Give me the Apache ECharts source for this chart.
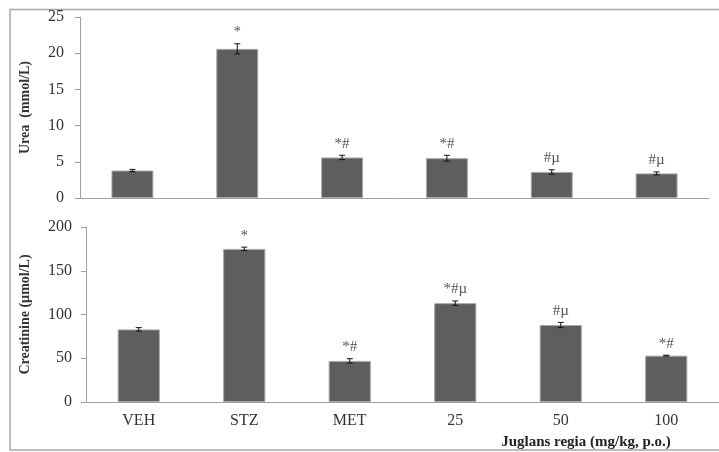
<!DOCTYPE html>
<html>
<head>
<meta charset="utf-8">
<script src="https://cdn.jsdelivr.net/npm/echarts@6/dist/echarts.min.js"></script>
<style>html,body{margin:0;padding:0;background:#fff;overflow:hidden;}#c{width:719px;height:452px;}</style>
</head>
<body>
<div id="c"></div>
<script>
var categories = ['VEH', 'STZ', 'MET', '25', '50', '100'];
var ureaValues = [3.8, 20.6, 5.6, 5.5, 3.6, 3.4];
var ureaErrors = [0.15, 0.7, 0.3, 0.4, 0.3, 0.2];
var ureaMarks = ['', '*', '*#', '*#', '#\u00b5', '#\u00b5'];
var creatValues = [83, 175, 47, 113, 88, 53];
var creatErrors = [2, 2, 2.5, 2.5, 3, 0.5];
var creatMarks = ['', '*', '*#', '*#\u00b5', '#\u00b5', '*#'];
var ureaTicks = [0, 5, 10, 15, 20, 25];
var creatTicks = [0, 50, 100, 150, 200];

var FONT = '"Liberation Serif", "Times New Roman", serif';
var AXIS_COLOR = '#a0a0a0';

function errSeries(xi, yi, vals, errs, marks) {
  return {
    type: 'custom',
    xAxisIndex: xi, yAxisIndex: yi,
    z: 5,
    data: vals.map(function (v, i) { return [i, v, errs[i]]; }),
    renderItem: function (params, api) {
      var i = api.value(0), v = api.value(1), e = api.value(2);
      var top = api.coord([i, v + e]);
      var bot = api.coord([i, v - e]);
      var cw = 3;
      var children = [
        { type: 'line', shape: { x1: top[0], y1: top[1], x2: bot[0], y2: bot[1] }, style: { stroke: '#111', lineWidth: 1 } },
        { type: 'line', shape: { x1: top[0] - cw, y1: top[1], x2: top[0] + cw, y2: top[1] }, style: { stroke: '#111', lineWidth: 1 } },
        { type: 'line', shape: { x1: bot[0] - cw, y1: bot[1], x2: bot[0] + cw, y2: bot[1] }, style: { stroke: '#111', lineWidth: 1 } }
      ];
      var m = marks[params.dataIndex];
      if (m) {
        children.push({ type: 'text', style: { text: m, x: top[0], y: top[1] - 4, textAlign: 'center', textVerticalAlign: 'bottom', fill: '#555', font: '15px ' + FONT } });
      }
      return { type: 'group', children: children };
    }
  };
}

var chart = echarts.init(document.getElementById('c'));
chart.setOption({
  animation: false,
  backgroundColor: '#fff',
  grid: [
    { left: 80, top: 17, width: 629, height: 181 },
    { left: 86, top: 227, width: 644, height: 175 }
  ],
  xAxis: [
    { type: 'category', gridIndex: 0, data: categories,
      axisLine: { lineStyle: { color: AXIS_COLOR } },
      axisTick: { length: 5, lineStyle: { color: AXIS_COLOR } },
      axisLabel: { show: false } },
    { type: 'category', gridIndex: 1, data: categories,
      axisLine: { lineStyle: { color: AXIS_COLOR } },
      axisTick: { length: 5, lineStyle: { color: AXIS_COLOR } },
      axisLabel: { color: '#333', fontFamily: FONT, fontSize: 16, margin: 11 } }
  ],
  yAxis: [
    { type: 'value', gridIndex: 0, min: 0, max: 25, interval: 5,
      name: 'Urea  (mmol/L)', nameLocation: 'middle', nameGap: 48,
      nameTextStyle: { fontFamily: FONT, fontSize: 14, fontWeight: 'bold', color: '#333' },
      axisLine: { show: true, lineStyle: { color: AXIS_COLOR } },
      axisTick: { show: true, length: 5, lineStyle: { color: AXIS_COLOR } },
      splitLine: { show: false },
      axisLabel: { color: '#333', fontFamily: FONT, fontSize: 16, margin: 16,
        formatter: function (v) { return ureaTicks.indexOf(v) >= 0 ? String(v) : ''; } } },
    { type: 'value', gridIndex: 1, min: 0, max: 200, interval: 50,
      name: 'Creatinine (\u00b5mol/L)', nameLocation: 'middle', nameGap: 54,
      nameTextStyle: { fontFamily: FONT, fontSize: 14, fontWeight: 'bold', color: '#333' },
      axisLine: { show: true, lineStyle: { color: AXIS_COLOR } },
      axisTick: { show: true, length: 5, lineStyle: { color: AXIS_COLOR } },
      splitLine: { show: false },
      axisLabel: { color: '#333', fontFamily: FONT, fontSize: 16, margin: 14,
        formatter: function (v) { return creatTicks.indexOf(v) >= 0 ? String(v) : ''; } } }
  ],
  series: [
    { type: 'bar', xAxisIndex: 0, yAxisIndex: 0, data: ureaValues, barWidth: '40%',
      itemStyle: { color: '#5e5e5e', borderColor: '#a8a8a8', borderWidth: 1 } },
    errSeries(0, 0, ureaValues, ureaErrors, ureaMarks),
    { type: 'bar', xAxisIndex: 1, yAxisIndex: 1, data: creatValues, barWidth: '40%',
      itemStyle: { color: '#5e5e5e', borderColor: '#a8a8a8', borderWidth: 1 } },
    errSeries(1, 1, creatValues, creatErrors, creatMarks)
  ],
  graphic: [
    { type: 'polyline', shape: { points: [[900, 9.5], [10, 9.5], [10, 450], [900, 450]] }, style: { fill: 'none', stroke: '#a8a8a8', lineWidth: 1.5 }, z: 0, silent: true },
    { type: 'text', x: 586, y: 442, style: { text: 'Juglans regia (mg/kg, p.o.)', textAlign: 'center', textVerticalAlign: 'middle', font: 'bold 15px ' + FONT, fill: '#222' } }
  ]
});
</script>
</body>
</html>
